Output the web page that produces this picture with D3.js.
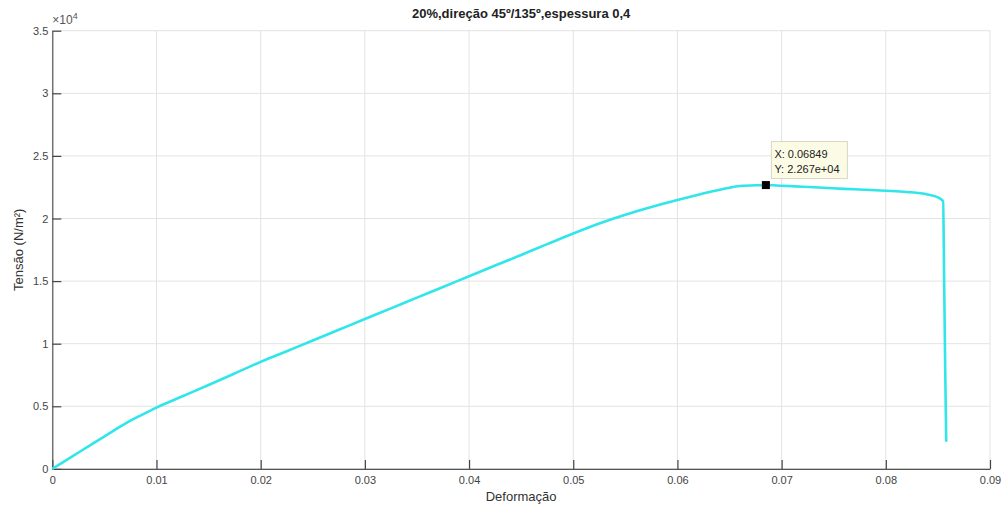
<!DOCTYPE html>
<html><head><meta charset="utf-8">
<script src="https://cdn.jsdelivr.net/npm/d3@7"></script>
<style>
body{margin:0;background:#fff;}
svg{display:block;}
text{font-family:"Liberation Sans",Arial,Helvetica,sans-serif;}
</style></head>
<body><svg id="c" width="1002" height="506"></svg>
<script>
const strain = [0,0.002,0.004,0.0055,0.007,0.0085,0.010,0.0125,0.015,0.0175,0.020,0.0225,0.025,0.0275,0.030,0.0325,0.035,0.0375,0.040,0.0425,0.045,0.0475,0.050,0.0525,0.055,0.0575,0.060,0.062,0.0635,0.065,0.066,0.0675,0.06849,0.070,0.072,0.074,0.076,0.078,0.080,0.082,0.084,0.0850,0.0855,0.0856,0.0857,0.0858];
const stress = [0,1040,2080,2850,3620,4280,4900,5800,6700,7620,8550,9400,10250,11110,11970,12820,13680,14530,15390,16240,17090,17950,18800,19600,20300,20920,21480,21900,22200,22460,22590,22660,22670,22620,22540,22460,22370,22300,22220,22120,21920,21680,21380,15000,8000,2170];
const xTicks = [0,0.01,0.02,0.03,0.04,0.05,0.06,0.07,0.08,0.09];
const xTickLabels = ["0","0.01","0.02","0.03","0.04","0.05","0.06","0.07","0.08","0.09"];
const yTicks = [0,5000,10000,15000,20000,25000,30000,35000];
const yTickLabels = ["0","0.5","1","1.5","2","2.5","3","3.5"];
const titleText = "20%,direção 45º/135º,espessura 0,4";
const xLabel = "Deformação";
const yLabel = "Tensão (N/m²)";
const tipX = 0.06849, tipY = 22670;
const tipLines = ["X: 0.06849","Y: 2.267e+04"];

const svg = d3.select("#c");
const L=52.3,R=990,T=30.7,B=468.9;
const x = d3.scaleLinear().domain([0,0.09]).range([L,R]);
const y = d3.scaleLinear().domain([0,35000]).range([B,T]);

// grid
const g = svg.append("g");
g.selectAll(".gx").data(xTicks).enter().append("line")
 .attr("x1",d=>x(d)).attr("x2",d=>x(d)).attr("y1",T).attr("y2",B)
 .attr("stroke","#e3e3e3").attr("stroke-width",1);
g.selectAll(".gy").data(yTicks).enter().append("line")
 .attr("y1",d=>y(d)).attr("y2",d=>y(d)).attr("x1",L).attr("x2",R)
 .attr("stroke","#e3e3e3").attr("stroke-width",1);

// axes
const xAxis = d3.axisBottom(x).tickValues(xTicks).tickFormat((d,i)=>xTickLabels[i]).tickSizeInner(-9).tickSizeOuter(0).tickPadding(14);
const yAxis = d3.axisLeft(y).tickValues(yTicks).tickFormat((d,i)=>yTickLabels[i]).tickSizeInner(-9).tickSizeOuter(0).tickPadding(14);
const ax = svg.append("g").attr("transform",`translate(0,${B})`).call(xAxis);
const ay = svg.append("g").attr("transform",`translate(${L},0)`).call(yAxis);
[ax,ay].forEach(a=>{
  a.select(".domain").attr("stroke","#555").attr("stroke-width",1.2);
  a.selectAll(".tick line").attr("stroke","#444").attr("stroke-width",1.2);
  a.selectAll(".tick text").attr("fill","#444").attr("font-size",11).attr("font-family","'Liberation Sans',Arial,sans-serif");
});
ay.selectAll(".tick text").attr("dx",10);
ax.selectAll(".tick text").attr("dy","0.55em").attr("transform","translate(0,-5)");

// exponent
const ex = svg.append("text").attr("x",L).attr("y",24).attr("fill","#555").attr("font-size",12);
ex.append("tspan").text("×10");
ex.append("tspan").attr("dy",-5).attr("font-size",9).text("4");

// line
const line = d3.line().x((d,i)=>x(strain[i])).y((d,i)=>y(stress[i])).curve(d3.curveMonotoneX);
svg.append("path").datum(stress).attr("d",line).attr("fill","none")
 .attr("stroke","#30e6ea").attr("stroke-width",2.6).attr("stroke-linejoin","round");

// marker
svg.append("rect").attr("x",x(tipX)-4).attr("y",y(tipY)-4).attr("width",8).attr("height",8).attr("fill","#000");
// tooltip
const bx = x(tipX)+5.5, by = y(tipY)-43.5;
svg.append("rect").attr("x",bx).attr("y",by).attr("width",76).attr("height",37)
 .attr("fill","#fcfce6").attr("stroke","#d8d8c0").attr("stroke-width",1);
svg.selectAll(".tip").data(tipLines).enter().append("text")
 .attr("x",bx+3).attr("y",(d,i)=>by+16+i*15.5).attr("font-size",11).attr("fill","#222").text(d=>d);

// title and labels
svg.append("text").attr("x",(L+R)/2).attr("y",18).attr("text-anchor","middle")
 .attr("font-size",13).attr("font-weight","bold").attr("fill","#222").text(titleText);
svg.append("text").attr("x",(L+R)/2).attr("y",501).attr("text-anchor","middle")
 .attr("font-size",13).attr("fill","#333").text(xLabel);
svg.append("text").attr("transform",`translate(23,${(T+B)/2}) rotate(-90)`).attr("text-anchor","middle")
 .attr("font-size",13).attr("fill","#333").text(yLabel);
</script></body></html>
